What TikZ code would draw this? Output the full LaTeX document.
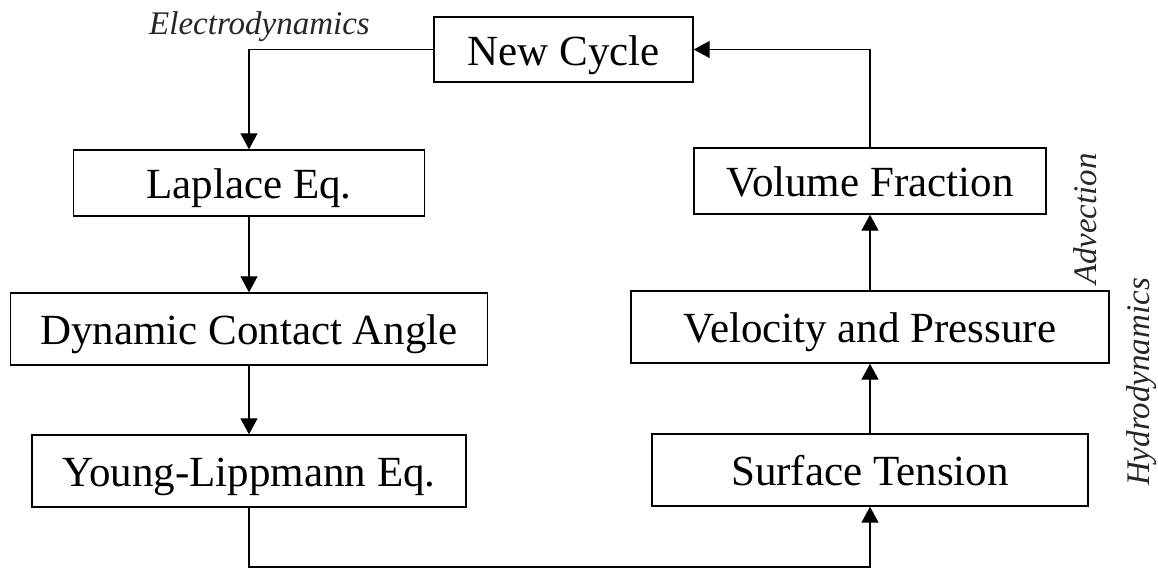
\documentclass[tikz,border=0pt]{standalone}
\usepackage{fontspec}
\setmainfont{Liberation Serif}
\usetikzlibrary{arrows.meta}
\begin{document}
\begin{tikzpicture}[x=1pt,y=-1pt,
  box/.style={draw,line width=1.4pt,inner sep=0pt,text height=31pt,text depth=0pt,
    font=\fontsize{43}{48}\selectfont},
  conn/.style={line width=1.3pt},
  arr/.style={conn,-{Triangle[length=16pt,width=17pt]}},
  lab/.style={font=\itshape\fontsize{33}{38}\selectfont,inner sep=0pt,text=black!85}]
\useasboundingbox (0,0) rectangle (1158,570);
% left column
\node[box,minimum width=259pt,minimum height=65pt] (nc) at (563.5,49.5) {New Cycle};
\node[box,minimum width=351pt,minimum height=66pt] (lap) at (249,183) {Laplace Eq.};
\node[box,minimum width=477pt,minimum height=72pt] (dca) at (249,329) {Dynamic Contact Angle};
\node[box,minimum width=434pt,minimum height=72pt] (yl) at (249,471) {Young-Lippmann Eq.};
% right column
\node[box,minimum width=352pt,minimum height=66pt] (vf) at (870,181) {Volume Fraction};
\node[box,minimum width=478pt,minimum height=72pt] (vp) at (870,327) {Velocity and Pressure};
\node[box,minimum width=436pt,minimum height=72pt] (st) at (870,470) {Surface Tension};
% labels
\node[lab,anchor=base] (el) at (259.5,34) {Electrodynamics};
\node[lab,rotate=90,anchor=base] (adv) at (1096,219) {Advection};
\node[lab,rotate=90,anchor=base] (hyd) at (1149,382) {Hydrodynamics};
% connectors
\coordinate (bl) at (249,567);
\coordinate (br) at (870,567);
\draw[arr] (nc.west) -| (lap.north);
\draw[arr] (lap.south) -- (dca.north);
\draw[arr] (dca.south) -- (yl.north);
\draw[arr] (yl.south) -- (bl) -- (br) -- (st.south);
\draw[arr] (st.north) -- (vp.south);
\draw[arr] (vp.north) -- (vf.south);
\draw[arr] (vf.north) |- (nc.east);
\end{tikzpicture}
\end{document}
